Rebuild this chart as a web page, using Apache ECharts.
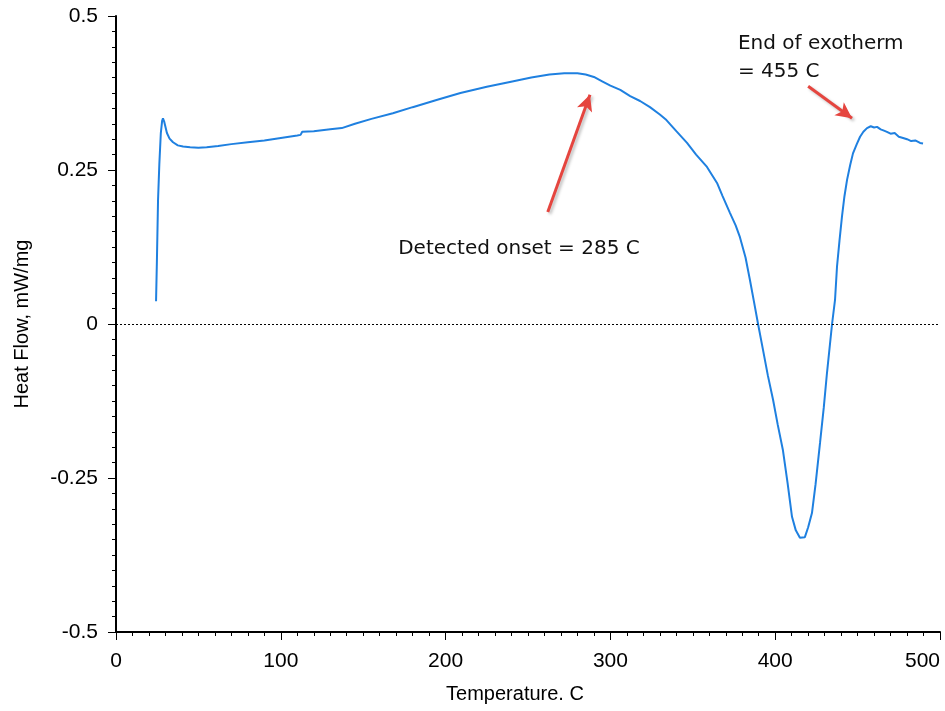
<!DOCTYPE html>
<html>
<head>
<meta charset="utf-8">
<title>Heat Flow</title>
<script src="https://cdn.jsdelivr.net/npm/echarts@6/dist/echarts.min.js"></script>
<style>
  body { margin: 0; background: #fff; }
  #info { width: 945px; height: 711px; }
</style>
</head>
<body>
<div id="info"></div>
<script>
// temperature (C) and heat flow (mW/mg)
var temps = [24.3, 24.8, 25.5, 26.3, 27.2, 28.0, 28.5, 29.3, 30.9, 32.5, 34.6, 37.5, 40.7, 45, 50, 55, 62, 70, 80, 90,
  100, 110, 112, 113, 120, 130, 137, 145, 155, 168, 180, 195, 209, 225, 239, 252, 263, 272, 280, 285,
  290, 295, 300, 306, 312, 318, 324, 330, 334, 340, 346.5, 352, 358.6, 364.7, 368, 372.6, 376, 378.6, 382, 384.7,
  387, 389.6, 392.6, 395.5, 398.7, 401.5, 404.7, 407.5, 410.2, 412.5, 415, 418, 420, 422.3, 424.5, 427.2, 429.5, 431.4, 434.5, 436.3,
  437.5, 439, 440.5, 442, 443.6, 445.5, 447.2, 449.5, 451.5, 453.5, 455.7, 458, 460, 461.8, 464, 466, 467.8, 470, 472.5, 475,
  477.6, 480, 482.5, 485, 487.9, 489.7];
var heatFlow = [0.037, 0.10, 0.20, 0.26, 0.31, 0.330, 0.334, 0.328, 0.310, 0.301, 0.295, 0.290, 0.288, 0.287, 0.286, 0.287, 0.289, 0.292, 0.295, 0.298,
  0.302, 0.306, 0.307, 0.312, 0.313, 0.316, 0.318, 0.325, 0.333, 0.342, 0.352, 0.364, 0.375, 0.385, 0.393, 0.400, 0.405, 0.407, 0.407, 0.405,
  0.401, 0.394, 0.387, 0.380, 0.370, 0.362, 0.352, 0.340, 0.331, 0.313, 0.294, 0.275, 0.255, 0.229, 0.208, 0.180, 0.160, 0.141, 0.108, 0.071,
  0.038, 0.000, -0.042, -0.083, -0.123, -0.163, -0.205, -0.258, -0.313, -0.335, -0.347, -0.346, -0.330, -0.307, -0.260, -0.193, -0.135, -0.080, 0.000, 0.039,
  0.093, 0.135, 0.174, 0.207, 0.234, 0.258, 0.277, 0.292, 0.304, 0.312, 0.318, 0.321, 0.319, 0.320, 0.316, 0.314, 0.312, 0.309, 0.310, 0.304,
  0.302, 0.300, 0.297, 0.298, 0.294, 0.293];

// annotations: arrow start/end and label anchor, in data units
var onsetArrow = [[262, 0.182], [287.6, 0.372]];
var endArrow = [[420, 0.386], [446.6, 0.334]];
var onsetLabel = [244.5, 0.122];
var endLabel = [377.4, 0.432];

var points = temps.map(function(t, i) {
  return [t, heatFlow[i]];
});

var axisFont = "Liberation Sans";
var noteFont = "DejaVu Sans";

var arrowStyle = {
  color: "#e5453f",
  width: 3,
  type: "solid",
  shadowColor: "rgba(0,0,0,0.25)",
  shadowBlur: 3,
  shadowOffsetX: 2,
  shadowOffsetY: 2
};

var option = {
  animation: false,
  grid: {
    left: 116,
    right: 5,
    top: 16,
    bottom: 79,
    containLabel: false
  },
  xAxis: {
    type: "value",
    min: 0,
    max: 500,
    interval: 100,
    name: "Temperature. C",
    nameLocation: "middle",
    nameGap: 52,
    nameTextStyle: {
      fontFamily: axisFont,
      fontSize: 20,
      color: "#000",
      padding: [0, 26, 0, 0]
    },
    axisLine: { onZero: false, lineStyle: { color: "#000", width: 2 } },
    axisTick: { length: 8, lineStyle: { color: "#000", width: 1 } },
    minorTick: { show: true, splitNumber: 10, length: 4, lineStyle: { color: "#000" } },
    splitLine: { show: false },
    axisLabel: {
      fontFamily: axisFont,
      fontSize: 21,
      color: "#000",
      margin: 19,
      alignMaxLabel: "right"
    }
  },
  yAxis: {
    type: "value",
    min: -0.5,
    max: 0.5,
    interval: 0.25,
    name: "Heat Flow, mW/mg",
    nameLocation: "middle",
    nameGap: 84,
    nameTextStyle: {
      fontFamily: axisFont,
      fontSize: 20,
      color: "#000"
    },
    axisLine: { show: true, onZero: false, lineStyle: { color: "#000", width: 2 } },
    axisTick: { show: true, length: 8, lineStyle: { color: "#000", width: 1 } },
    minorTick: { show: true, splitNumber: 10, length: 4, lineStyle: { color: "#000" } },
    splitLine: { show: false },
    axisLabel: {
      fontFamily: axisFont,
      fontSize: 21,
      color: "#000",
      margin: 18
    }
  },
  series: [
    {
      type: "line",
      data: points,
      showSymbol: false,
      smooth: false,
      lineStyle: { color: "#1f80e0", width: 2 },
      itemStyle: { color: "#1f80e0" },
      markLine: {
        silent: true,
        symbol: ["none", "none"],
        label: { show: false },
        data: [
          { yAxis: 0, lineStyle: { color: "#000", width: 1, type: [2, 2] } },
          [
            { coord: onsetArrow[0], symbol: "none", lineStyle: arrowStyle },
            { coord: onsetArrow[1], symbol: "arrow", symbolSize: [12, 16] }
          ],
          [
            { coord: endArrow[0], symbol: "none", lineStyle: arrowStyle },
            { coord: endArrow[1], symbol: "arrow", symbolSize: [12, 16] }
          ]
        ]
      },
      markPoint: {
        silent: true,
        symbol: "circle",
        symbolSize: 0,
        data: [
          {
            coord: onsetLabel,
            label: {
              show: true,
              position: "inside",
              formatter: "Detected onset = 285 C",
              fontFamily: noteFont,
              fontSize: 20,
              color: "#111"
            }
          },
          {
            coord: endLabel,
            label: {
              show: true,
              position: "inside",
              align: "left",
              formatter: "End of exotherm\n= 455 C",
              fontFamily: noteFont,
              fontSize: 20,
              lineHeight: 28,
              color: "#111"
            }
          }
        ]
      }
    }
  ]
};

var dom = document.getElementById("info");
var myChart = echarts.init(dom);
myChart.setOption(option);
</script>
</body>
</html>
